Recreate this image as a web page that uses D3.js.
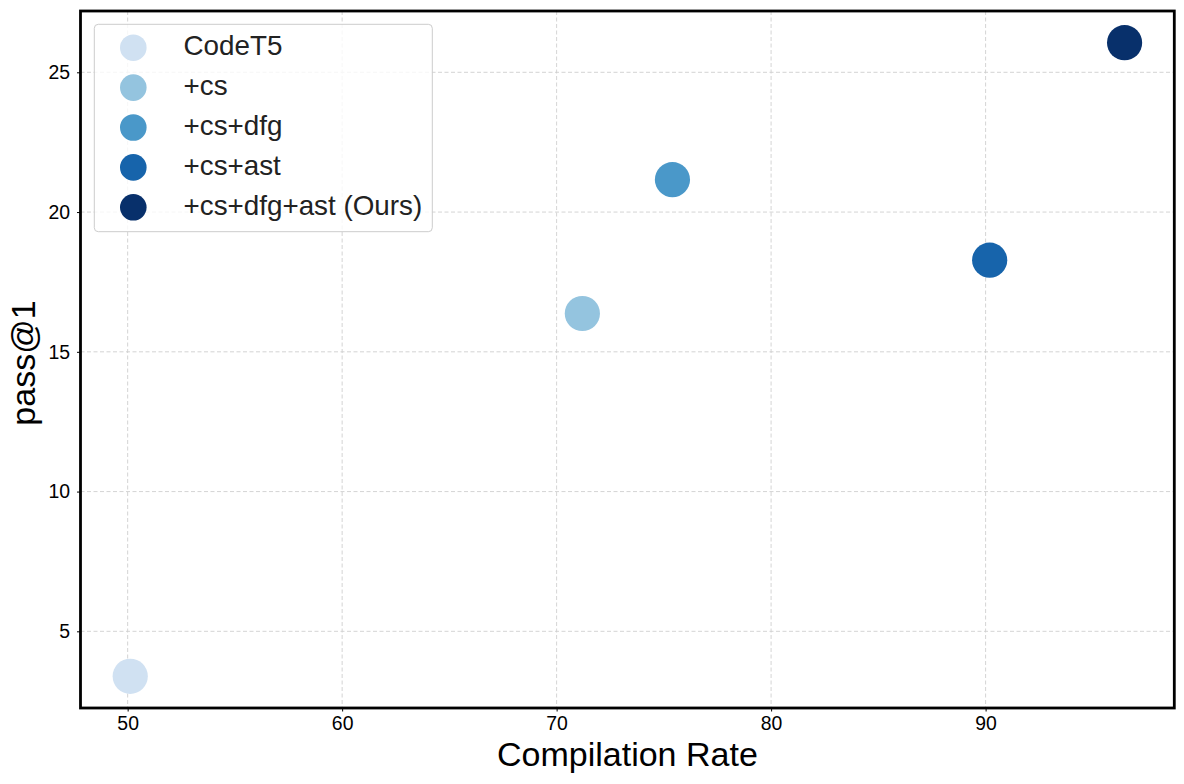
<!DOCTYPE html>
<html>
<head>
<meta charset="utf-8">
<script src="https://cdn.jsdelivr.net/npm/d3@7"></script>
<style>
  html, body { margin: 0; padding: 0; background: #fff; }
  svg { display: block; }
  text { font-family: "Liberation Sans", Arial, sans-serif; }
</style>
</head>
<body>
<div id="chart"></div>
<script>
// ---- data ----
const models = ["CodeT5", "+cs", "+cs+dfg", "+cs+ast", "+cs+dfg+ast (Ours)"];
const compilationRate = [50.12, 71.2, 75.4, 90.19, 96.48];
const passAt1 = [3.39, 16.37, 21.16, 18.28, 26.06];
const colors = ["#d0e1f2", "#94c4df", "#4a98c9", "#1764ab", "#08306b"];
const xTicks = [50, 60, 70, 80, 90];
const yTicks = [5, 10, 15, 20, 25];
const xLabel = "Compilation Rate";
const yLabel = "pass@1";

// ---- layout ----
const W = 1184, H = 784;
const M = { left: 80.5, right: W - 1174.3, top: 11, bottom: H - 708 };
const iw = W - M.left - M.right, ih = H - M.top - M.bottom;

const svg = d3.select("#chart").append("svg").attr("width", W).attr("height", H);
const g = svg.append("g").attr("transform", `translate(${M.left},${M.top})`);

function padded(arr) {
  const [a, b] = d3.extent(arr);
  const p = (b - a) * 0.05;
  return [a - p, b + p];
}
const x = d3.scaleLinear().domain(padded(compilationRate)).range([0, iw]);
const y = d3.scaleLinear().domain(padded(passAt1)).range([ih, 0]);

// grid
g.append("g").selectAll("line").data(xTicks).join("line")
  .attr("x1", d => x(d)).attr("x2", d => x(d)).attr("y1", 0).attr("y2", ih)
  .attr("stroke", "#cfcfcf").attr("stroke-width", 0.9).attr("stroke-dasharray", "4,2.5");
g.append("g").selectAll("line").data(yTicks).join("line")
  .attr("y1", d => y(d)).attr("y2", d => y(d)).attr("x1", 0).attr("x2", iw)
  .attr("stroke", "#cfcfcf").attr("stroke-width", 0.9).attr("stroke-dasharray", "4,2.5");

// axes
const xAxis = g.append("g").attr("transform", `translate(0,${ih})`)
  .call(d3.axisBottom(x).tickValues(xTicks).tickSize(3.5).tickPadding(5).tickFormat(d3.format("d")));
const yAxis = g.append("g")
  .call(d3.axisLeft(y).tickValues(yTicks).tickSize(3.5).tickPadding(7).tickFormat(d3.format("d")));
[xAxis, yAxis].forEach(a => {
  a.attr("font-size", 19.4).attr("font-family", '"Liberation Sans", Arial, sans-serif');
  a.select(".domain").remove();
  a.selectAll(".tick line").attr("stroke", "#000").attr("stroke-width", 1);
  a.selectAll(".tick text").attr("font-size", 19.4).attr("fill", "#000");
});

// points
g.append("g").selectAll("circle").data(models).join("circle")
  .attr("cx", (d, i) => x(compilationRate[i]))
  .attr("cy", (d, i) => y(passAt1[i]))
  .attr("r", 17.6)
  .attr("fill", (d, i) => colors[i]);

// frame
g.append("rect").attr("x", 0).attr("y", 0).attr("width", iw).attr("height", ih)
  .attr("fill", "none").attr("stroke", "#000").attr("stroke-width", 2.8);

// axis labels
svg.append("text").attr("x", M.left + iw / 2).attr("y", 766)
  .attr("text-anchor", "middle").attr("font-size", 34).attr("fill", "#000").text(xLabel);
svg.append("text")
  .attr("transform", `translate(35,${M.top + ih / 2 + 3.5}) rotate(-90)`)
  .attr("text-anchor", "middle").attr("font-size", 34).attr("fill", "#000").text(yLabel);

// legend
const leg = svg.append("g");
leg.append("rect").attr("x", 94.3).attr("y", 24.3).attr("width", 338).attr("height", 207.4)
  .attr("rx", 4).attr("fill", "#fff").attr("fill-opacity", 0.8)
  .attr("stroke", "#cccccc").attr("stroke-width", 1);
const rows = leg.selectAll("g.row").data(models).join("g").attr("class", "row")
  .attr("transform", (d, i) => `translate(0,${47.7 + i * 39.9})`);
rows.append("circle").attr("cx", 133.3).attr("cy", 0).attr("r", 13.3)
  .attr("fill", (d, i) => colors[i]);
rows.append("text").attr("x", 183.5).attr("y", 7.4)
  .attr("font-size", 27.8).attr("fill", "#222").text(d => d);
</script>
</body>
</html>
